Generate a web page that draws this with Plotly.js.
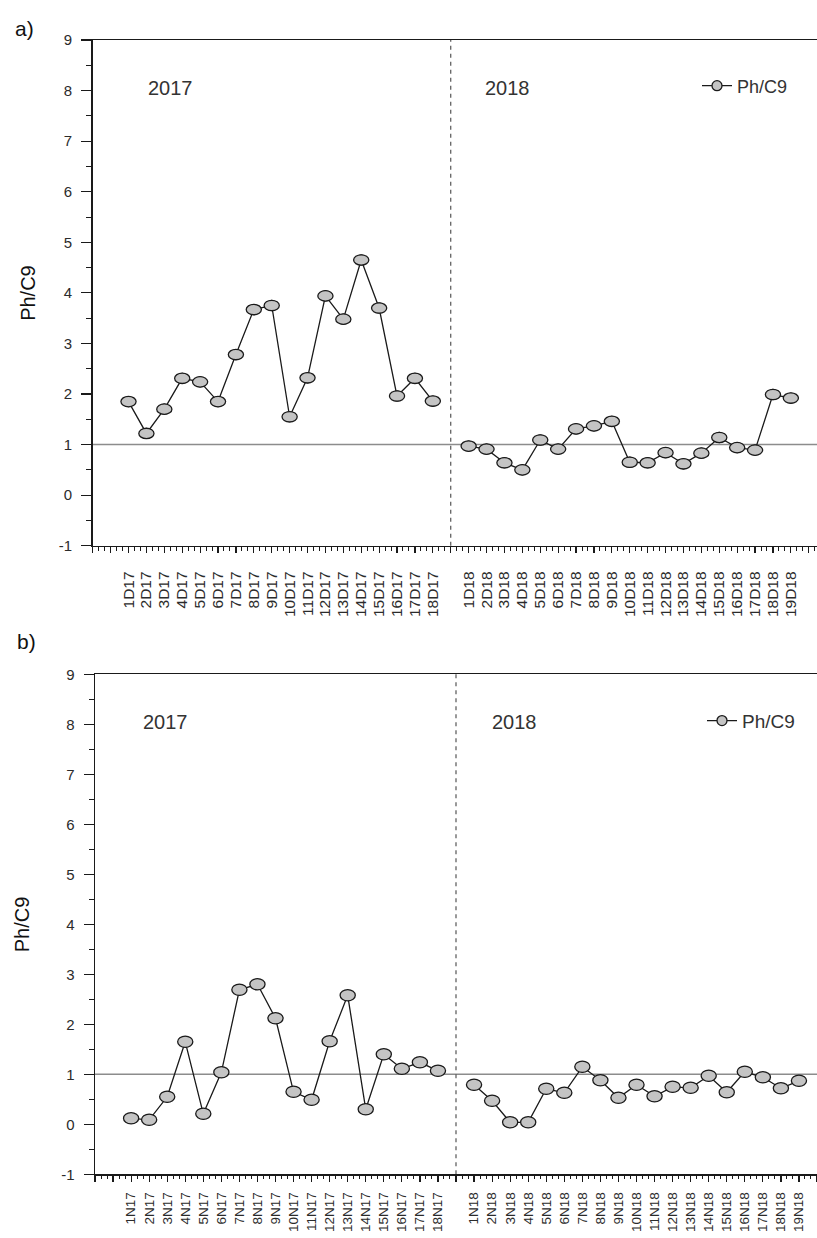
<!DOCTYPE html>
<html>
<head>
<meta charset="utf-8">
<script src="https://cdn.plot.ly/plotly-3.0.1.min.js"></script>
<style>
  html, body { margin: 0; padding: 0; background: #ffffff; overflow: hidden; }
  #chart { width: 817px; height: 1238px; }
</style>
</head>
<body>
<div id="chart"></div>
<script>
// Panel a) – sampling days (D) in 2017 and 2018
const labelsA2017 = ['1D17','2D17','3D17','4D17','5D17','6D17','7D17','8D17','9D17','10D17','11D17','12D17','13D17','14D17','15D17','16D17','17D17','18D17'];
const valuesA2017 = [1.85, 1.22, 1.70, 2.31, 2.24, 1.85, 2.78, 3.67, 3.75, 1.55, 2.32, 3.94, 3.48, 4.65, 3.70, 1.96, 2.31, 1.86];
const labelsA2018 = ['1D18','2D18','3D18','4D18','5D18','6D18','7D18','8D18','9D18','10D18','11D18','12D18','13D18','14D18','15D18','16D18','17D18','18D18','19D18'];
const valuesA2018 = [0.97, 0.91, 0.64, 0.50, 1.09, 0.91, 1.31, 1.37, 1.46, 0.65, 0.64, 0.84, 0.62, 0.83, 1.14, 0.94, 0.89, 1.99, 1.92];

// Panel b) – sampling nights (N) in 2017 and 2018
const labelsB2017 = ['1N17','2N17','3N17','4N17','5N17','6N17','7N17','8N17','9N17','10N17','11N17','12N17','13N17','14N17','15N17','16N17','17N17','18N17'];
const valuesB2017 = [0.12, 0.09, 0.55, 1.65, 0.21, 1.04, 2.69, 2.80, 2.12, 0.65, 0.49, 1.66, 2.58, 0.30, 1.40, 1.11, 1.24, 1.07];
const labelsB2018 = ['1N18','2N18','3N18','4N18','5N18','6N18','7N18','8N18','9N18','10N18','11N18','12N18','13N18','14N18','15N18','16N18','17N18','18N18','19N18'];
const valuesB2018 = [0.79, 0.47, 0.04, 0.04, 0.71, 0.63, 1.15, 0.88, 0.53, 0.79, 0.56, 0.75, 0.73, 0.97, 0.64, 1.05, 0.94, 0.72, 0.87];

const yearLabels = ['2017', '2018'];
const seriesName = 'Ph/C9';
const referenceLevel = 1;
const yMin = -1, yMax = 9;

const FONT = 'Liberation Sans, Arial, Helvetica, sans-serif';
const INK = '#1a1a1a';
const TEXT = '#2b2b2b';

// y ticks written with a plain hyphen for negatives
const yTickVals = [], yTickText = [];
for (let k = yMin; k <= yMax; k++) { yTickVals.push(k); yTickText.push(String(k)); }

// Build one panel: line trace, tick arrays, ellipse markers, guide lines and year labels
function buildPanel(lab17, val17, lab18, val18, ax, opts) {
  const xs = 'x' + (ax === 1 ? '' : ax);
  const ys = 'y' + (ax === 1 ? '' : ax);
  const pos17 = lab17.map((_, i) => i + 1);
  const gap = lab17.length + 1;
  const pos18 = lab18.map((_, i) => gap + 1 + i);

  const trace = {
    x: [...pos17, gap, ...pos18],
    y: [...val17, null, ...val18],
    xaxis: xs, yaxis: ys,
    name: seriesName,
    mode: 'lines+markers',
    connectgaps: false,
    line: { color: INK, width: 1.3 },
    marker: { symbol: 'circle', size: 10, color: '#c4c4c4', line: { color: INK, width: 1.3 } },
    legend: ax === 1 ? 'legend' : 'legend2',
    hoverinfo: 'x+y'
  };

  // ticks on every integer position, labelled where a sample exists
  const tickvals = [], ticktext = [];
  const labelAt = {};
  pos17.forEach((p, i) => labelAt[p] = lab17[i]);
  pos18.forEach((p, i) => labelAt[p] = lab18[i]);
  for (let k = -1; k <= Math.floor(opts.xmax); k++) {
    tickvals.push(k);
    ticktext.push(labelAt[k] || '');
  }

  // elliptical markers anchored to the data through the axis scales
  const shapes = [];
  shapes.push({
    type: 'line', xref: xs + ' domain', yref: ys, x0: 0, x1: 1, y0: referenceLevel, y1: referenceLevel,
    line: { color: '#8c8c8c', width: 1.6 }, layer: 'below'
  });
  shapes.push({
    type: 'line', xref: xs, yref: ys + ' domain', x0: gap, x1: gap, y0: 0, y1: 1,
    line: { color: '#555555', width: 1.2, dash: '4px,4px' }, layer: 'below'
  });
  const addEllipse = (x, y) => shapes.push({
    type: 'circle', xref: xs, yref: ys, xsizemode: 'pixel', ysizemode: 'pixel',
    xanchor: x, yanchor: y, x0: -opts.rx, x1: opts.rx, y0: -opts.ry, y1: opts.ry,
    fillcolor: '#c4c4c4', line: { color: INK, width: 1.3 }, layer: 'above'
  });
  pos17.forEach((p, i) => addEllipse(p, val17[i]));
  pos18.forEach((p, i) => addEllipse(p, val18[i]));

  const xaxis = {
    domain: opts.xdomain, range: [-1, opts.xmax], anchor: ys,
    tickmode: 'array', tickvals: tickvals, ticktext: ticktext,
    tickangle: -90, tickfont: { family: FONT, size: opts.xfont, color: TEXT },
    ticks: 'outside', ticklen: 6, tickwidth: 1.2, tickcolor: INK,
    ticklabelstandoff: opts.xstandoff,
    minor: { dtick: 1 / 3, tick0: 0, ticks: 'outside', ticklen: 3.5, tickwidth: 1, tickcolor: INK, showgrid: false },
    showline: true, linecolor: INK, linewidth: 1.5, mirror: true,
    showgrid: false, zeroline: false, fixedrange: true
  };
  const yaxis = {
    domain: opts.ydomain, range: [yMin, yMax], anchor: xs,
    tickmode: 'array', tickvals: yTickVals, ticktext: yTickText,
    tickfont: { family: FONT, size: 15, color: TEXT },
    ticks: 'outside', ticklen: 10, tickwidth: 1.2, tickcolor: INK,
    ticklabelstandoff: 6,
    minor: { dtick: 0.5, ticks: 'outside', ticklen: 5, tickwidth: 1, tickcolor: INK, showgrid: false },
    showline: true, linecolor: INK, linewidth: 1.5, mirror: false,
    showgrid: false, zeroline: false, fixedrange: true
  };

  const annotations = [
    { xref: xs, yref: ys, x: opts.yearX[0], y: opts.yearY, text: yearLabels[0], showarrow: false,
      xanchor: 'center', yanchor: 'middle', font: { family: FONT, size: 20, color: '#333333' } },
    { xref: xs, yref: ys, x: opts.yearX[1], y: opts.yearY, text: yearLabels[1], showarrow: false,
      xanchor: 'center', yanchor: 'middle', font: { family: FONT, size: 20, color: '#333333' } },
    { xref: 'paper', yref: 'paper', x: opts.titleX, y: (opts.ydomain[0] + opts.ydomain[1]) / 2,
      text: seriesName, textangle: -90, showarrow: false, xanchor: 'center', yanchor: 'middle',
      font: { family: FONT, size: 20, color: '#111111' } },
    { xref: 'paper', yref: 'paper', x: opts.panelX, y: opts.panelY, text: opts.panel, showarrow: false,
      xanchor: 'center', yanchor: 'middle', font: { family: FONT, size: 21, color: '#111111' } }
  ];

  return { trace, xaxis, yaxis, shapes, annotations };
}

const W = 817, H = 1238;
const a = buildPanel(labelsA2017, valuesA2017, labelsA2018, valuesA2018, 1, {
  xdomain: [92.7 / W, 1], ydomain: [1 - 545.7 / H, 1 - 40 / H], xmax: 39.46,
  rx: 7.6, ry: 5.2, xfont: 15.5, xstandoff: 12, yearX: [3.33, 22.16], yearY: 8.06,
  titleX: 28 / W, panel: 'a)', panelX: 24 / W, panelY: 1 - 28 / H
});
const b = buildPanel(labelsB2017, valuesB2017, labelsB2018, valuesB2018, 2, {
  xdomain: [95 / W, 1], ydomain: [1 - 1174.3 / H, 1 - 674.3 / H], xmax: 39,
  rx: 7.6, ry: 5.6, xfont: 13.5, xstandoff: 5, yearX: [2.9, 22.24], yearY: 8.05,
  titleX: 22 / W, panel: 'b)', panelX: 26 / W, panelY: 1 - 641 / H
});

const legendStyle = {
  bgcolor: 'rgba(0,0,0,0)', borderwidth: 0,
  xanchor: 'left', yanchor: 'middle', itemwidth: 30, tracegroupgap: 0
};

const layout = {
  width: W, height: H,
  margin: { l: 0, r: 0, t: 0, b: 0, pad: 0 },
  paper_bgcolor: '#ffffff', plot_bgcolor: '#ffffff',
  showlegend: true,
  legend: Object.assign({}, legendStyle, { x: 697 / W, y: 1 - 86 / H,
    font: { family: FONT, size: 18, color: '#333333' } }),
  legend2: Object.assign({}, legendStyle, { x: 702 / W, y: 1 - 720.7 / H,
    font: { family: FONT, size: 19, color: '#333333' } }),
  xaxis: a.xaxis, yaxis: a.yaxis,
  xaxis2: b.xaxis, yaxis2: b.yaxis,
  shapes: [...a.shapes, ...b.shapes],
  annotations: [...a.annotations, ...b.annotations]
};

Plotly.newPlot('chart', [a.trace, b.trace], layout, { displayModeBar: false, staticPlot: true });
</script>
</body>
</html>
